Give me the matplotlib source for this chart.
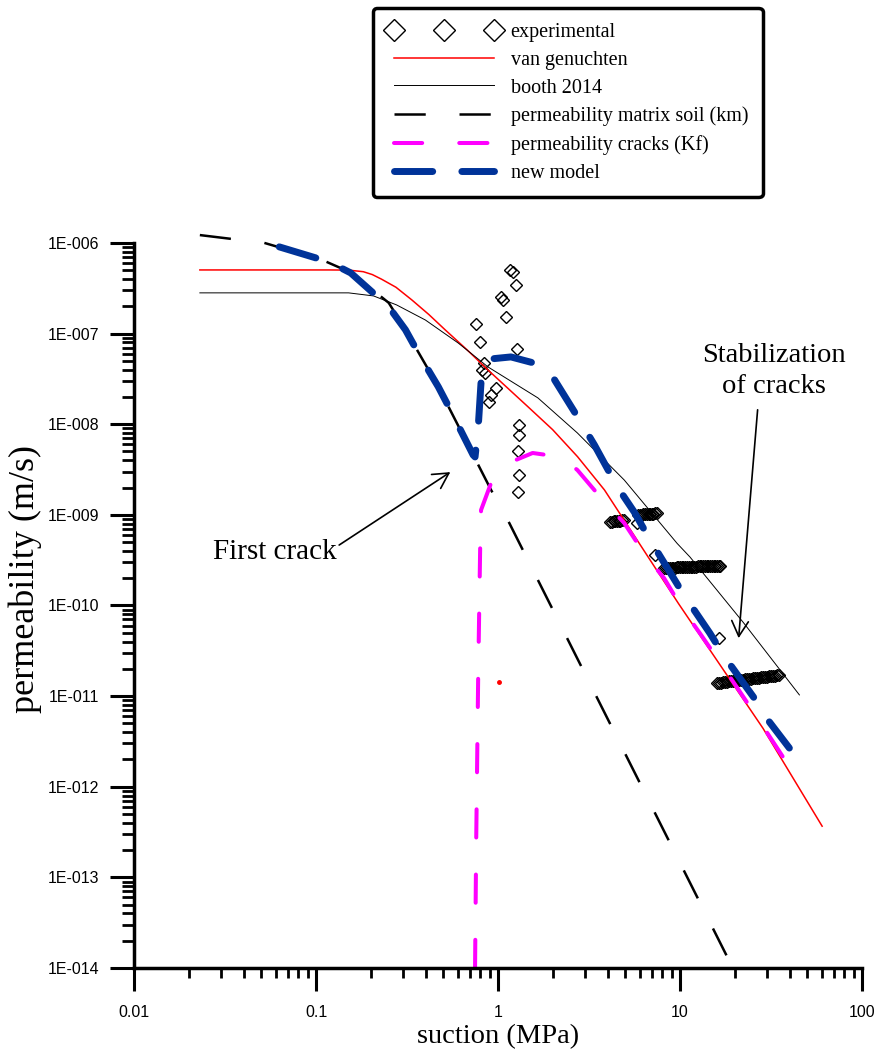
import numpy as np
import matplotlib.pyplot as plt
from matplotlib.ticker import LogLocator, FuncFormatter, NullFormatter

# suction in MPa, permeability in m/s

# experimental points
exp_s = [1.17, 1.21, 1.26, 1.04, 1.06, 1.11, 0.76, 0.80, 1.27, 0.84,
         0.82, 0.85, 0.98, 0.92, 0.89, 1.31, 1.31, 1.29, 1.31, 1.29,
         5.82, 7.30, 16.3]
exp_k = [5.0e-7, 4.8e-7, 3.4e-7, 2.55e-7, 2.35e-7, 1.54e-7, 1.28e-7, 8.0e-8, 6.8e-8, 4.7e-8,
         4.0e-8, 3.65e-8, 2.5e-8, 2.1e-8, 1.77e-8, 9.8e-9, 7.6e-9, 5.0e-9, 2.75e-9, 1.8e-9,
         8.1e-10, 3.6e-10, 4.4e-11]

# dense runs of measurements at nearly constant permeability
run1_s = [4.15, 4.24, 4.33, 4.42, 4.51, 4.6, 4.7, 4.8, 4.9]
run1_k = [8.4e-10, 8.4e-10, 8.5e-10, 8.5e-10, 8.5e-10, 8.6e-10, 8.6e-10, 8.7e-10, 8.7e-10]
run2_s = [5.9, 6.03, 6.16, 6.3, 6.44, 6.58, 6.72, 6.86, 7.0, 7.15, 7.3, 7.5]
run2_k = [1.0e-9, 1.0e-9, 1.0e-9, 1.01e-9, 1.01e-9, 1.02e-9, 1.02e-9, 1.02e-9, 1.03e-9,
          1.03e-9, 1.04e-9, 1.04e-9]
run3_s = [8.2, 8.4, 8.6, 8.8, 9.0, 9.2, 9.4, 9.6, 9.8, 10.0,
          10.2, 10.45, 10.7, 10.95, 11.2, 11.45, 11.7, 11.95, 12.2, 12.5,
          12.8, 13.1, 13.4, 13.7, 14.0, 14.3, 14.6, 14.95, 15.3, 15.65,
          16.0, 16.3, 16.6]
run3_k = [2.60e-10, 2.60e-10, 2.61e-10, 2.61e-10, 2.62e-10, 2.62e-10, 2.62e-10, 2.63e-10,
          2.63e-10, 2.64e-10, 2.64e-10, 2.65e-10, 2.65e-10, 2.66e-10, 2.66e-10, 2.67e-10,
          2.67e-10, 2.68e-10, 2.68e-10, 2.69e-10, 2.69e-10, 2.70e-10, 2.70e-10, 2.71e-10,
          2.71e-10, 2.72e-10, 2.72e-10, 2.73e-10, 2.73e-10, 2.74e-10, 2.74e-10, 2.75e-10,
          2.75e-10]
run4_s = [15.9, 16.3, 16.8, 17.2, 17.7, 18.1, 18.6, 19.1, 19.6, 20.1,
          20.6, 21.1, 21.7, 22.2, 22.8, 23.4, 24.0, 24.6, 25.2, 25.8,
          26.5, 27.2, 27.9, 28.6, 29.3, 30.0, 30.8, 31.6, 32.4, 33.2,
          34.0, 34.8]
run4_k = [1.39e-11, 1.40e-11, 1.41e-11, 1.42e-11, 1.43e-11, 1.44e-11, 1.45e-11, 1.46e-11,
          1.47e-11, 1.48e-11, 1.49e-11, 1.50e-11, 1.51e-11, 1.52e-11, 1.53e-11, 1.54e-11,
          1.55e-11, 1.56e-11, 1.57e-11, 1.58e-11, 1.59e-11, 1.60e-11, 1.61e-11, 1.62e-11,
          1.63e-11, 1.64e-11, 1.65e-11, 1.66e-11, 1.67e-11, 1.68e-11, 1.69e-11, 1.70e-11]

# van genuchten
vg_s = [0.0230, 0.118, 0.151, 0.182, 0.204, 0.229, 0.275, 0.336, 0.417, 0.512, 0.676, 0.881,
        1.459, 1.995, 2.735, 3.846, 9.84, 28.6, 60.4]
vg_k = [5.03e-7, 5.03e-7, 5.01e-7, 4.81e-7, 4.47e-7, 3.98e-7, 3.24e-7, 2.35e-7, 1.62e-7, 1.10e-7,
        6.61e-8, 3.96e-8, 1.56e-8, 8.71e-9, 4.38e-9, 1.88e-9, 1.04e-10, 4.40e-12, 3.67e-13]
vg_dot_s = [1.01]
vg_dot_k = [1.42e-11]

# booth 2014
booth_s = [0.023, 0.151, 0.207, 0.277, 0.399, 0.604, 0.881, 1.656, 2.73, 4.94, 9.64, 11.35, 22.4, 45.3]
booth_k = [2.81e-7, 2.81e-7, 2.60e-7, 2.07e-7, 1.41e-7, 7.87e-8, 4.28e-8, 1.95e-8, 8.0e-9, 2.42e-9,
           4.84e-10, 3.42e-10, 6.4e-11, 1.03e-11]

# permeability of the soil matrix (km)
km_s = [0.023, 0.052, 0.108, 0.157, 0.251, 0.310, 0.470, 0.685, 0.916, 1.156, 2.735, 7.08, 18.0]
km_k = [1.22e-6, 1.0e-6, 6.49e-7, 4.67e-7, 2.18e-7, 1.10e-7, 2.58e-8, 5.89e-9, 1.88e-9,
        8.05e-10, 2.57e-11, 5.75e-13, 1.38e-14]

# permeability of the cracks (Kf)
kf_s = [0.748, 0.759, 0.778, 0.798, 0.807, 0.916, 1.18, 1.55, 2.21, 2.73, 3.89, 4.94, 6.44,
        8.18, 10.26, 12.85, 16.56, 20.5, 26.4, 46.5]
kf_k = [1e-14, 2.6e-13, 1.6e-11, 4.4e-10, 1.13e-9, 2.24e-9, 3.83e-9, 4.81e-9, 4.35e-9, 3.12e-9,
        1.35e-9, 8.1e-10, 3.6e-10, 2.0e-10, 9.35e-11, 4.95e-11, 2.37e-11, 1.26e-11, 5.9e-12, 1.04e-12]

# new model
nm_s = [0.0628, 0.118, 0.155, 0.251, 0.310, 0.375, 0.470, 0.547, 0.730, 0.748, 0.778, 0.807,
        0.916, 1.178, 1.574, 2.046, 2.805, 3.388, 4.529, 5.610, 6.855, 10.52, 14.59, 17.62,
        25.35, 31.05, 39.9]
nm_k = [9.04e-7, 6.17e-7, 4.67e-7, 1.97e-7, 1.10e-7, 5.52e-8, 2.58e-8, 1.44e-8, 4.57e-9, 4.35e-9,
        9.08e-9, 2.92e-8, 5.25e-8, 5.52e-8, 4.73e-8, 3.08e-8, 1.11e-8, 5.89e-9, 2.03e-9, 1.07e-9,
        5.27e-10, 1.30e-10, 4.95e-11, 2.69e-11, 9.75e-12, 5.16e-12, 2.67e-12]

SERIF = 'Liberation Serif'
SANS = 'Liberation Sans'
BLUE = '#003399'

fig = plt.figure(figsize=(8.76, 10.57), dpi=100)
ax = fig.add_axes([0.153, 0.0842, 0.831, 0.686])

all_exp_s = exp_s + run1_s + run2_s + run3_s + run4_s
all_exp_k = exp_k + run1_k + run2_k + run3_k + run4_k
h_exp, = ax.plot(all_exp_s, all_exp_k, ls='none', marker='D', ms=6, mfc='none',
                 mec='black', mew=1.0, label='experimental')
h_vg, = ax.plot(vg_s, vg_k, color='red', lw=1.1, label='van genuchten')
ax.plot(vg_dot_s, vg_dot_k, ls='none', marker='o', ms=2.5, color='red')
h_booth, = ax.plot(booth_s, booth_k, color='black', lw=0.7, label='booth 2014')
h_km, = ax.plot(km_s, km_k, color='black', lw=1.8, dashes=(12.5, 13.5), clip_on=False,
                label='permeability matrix soil (km)')
h_kf, = ax.plot(kf_s, kf_k, color='#ff00ff', lw=2.9, dashes=(7, 9.2), dash_capstyle='round',
                label='permeability cracks (Kf)')
h_nm, = ax.plot(nm_s, nm_k, color=BLUE, lw=5, dashes=(5.5, 4.2), dash_capstyle='round',
                label='new model')

ax.set_xscale('log')
ax.set_yscale('log')
ax.set_xlim(0.01, 100)
ax.set_ylim(1e-14, 1e-6)

ax.xaxis.set_major_locator(LogLocator(base=10, numticks=10))
ax.xaxis.set_minor_locator(LogLocator(base=10, subs=np.arange(2, 10), numticks=20))
ax.yaxis.set_major_locator(LogLocator(base=10, numticks=12))
ax.yaxis.set_minor_locator(LogLocator(base=10, subs=np.arange(2, 10), numticks=20))
ax.xaxis.set_major_formatter(FuncFormatter(lambda v, p: '%g' % v))
ax.yaxis.set_major_formatter(FuncFormatter(lambda v, p: '1E-%03d' % round(-np.log10(v))))
ax.xaxis.set_minor_formatter(NullFormatter())
ax.yaxis.set_minor_formatter(NullFormatter())

for side in ['top', 'right']:
    ax.spines[side].set_visible(False)
for side in ['left', 'bottom']:
    ax.spines[side].set_linewidth(2.5)

ax.tick_params(axis='y', which='major', direction='out', length=17, width=2.2, pad=8)
ax.tick_params(axis='y', which='minor', direction='out', length=8.5, width=2.0)
ax.tick_params(axis='x', which='major', direction='out', length=16.5, width=2.2, pad=10)
ax.tick_params(axis='x', which='minor', direction='out', length=7, width=2.0)
for lab in ax.get_xticklabels() + ax.get_yticklabels():
    lab.set_fontfamily(SANS)
    lab.set_fontsize(11.5)

ax.set_xlabel('suction (MPa)', fontsize=20.5, family=SERIF)
ax.set_ylabel('permeability (m/s)', fontsize=26, family=SERIF)
ax.xaxis.set_label_coords(0.5, -0.078)
ax.yaxis.set_label_coords(-0.126, 0.536)

# annotations
arrow = dict(arrowstyle='->,head_length=0.55,head_width=0.3', lw=1.2, color='black',
             mutation_scale=20, shrinkA=0, shrinkB=0)
ax.text(0.0597, 3.9e-10, 'First crack', ha='center', va='center', fontsize=21, family=SERIF)
ax.annotate('', xy=(0.547, 2.96e-9), xytext=(0.134, 4.64e-10), arrowprops=arrow)
ax.text(32.7, 3.86e-8, 'Stabilization\nof cracks', ha='center', va='center',
        fontsize=20.5, family=SERIF, linespacing=1.3)
ax.annotate('', xy=(21.0, 4.36e-11), xytext=(26.7, 1.44e-8), arrowprops=arrow)

handles = [h_exp, h_vg, h_booth, h_km, h_kf, h_nm]
leg = fig.legend(handles, [h.get_label() for h in handles],
                 loc='upper left', bbox_to_anchor=(0.426, 0.9924), borderaxespad=0,
                 prop={'family': SERIF, 'size': 14.5}, handlelength=5.6, numpoints=3,
                 markerscale=1.8, frameon=True, fancybox=True, framealpha=1,
                 edgecolor='black', borderpad=0.72, labelspacing=0.44, handletextpad=0.5)
leg.get_frame().set_linewidth(2.5)

fig.savefig('out.png', dpi=100)
